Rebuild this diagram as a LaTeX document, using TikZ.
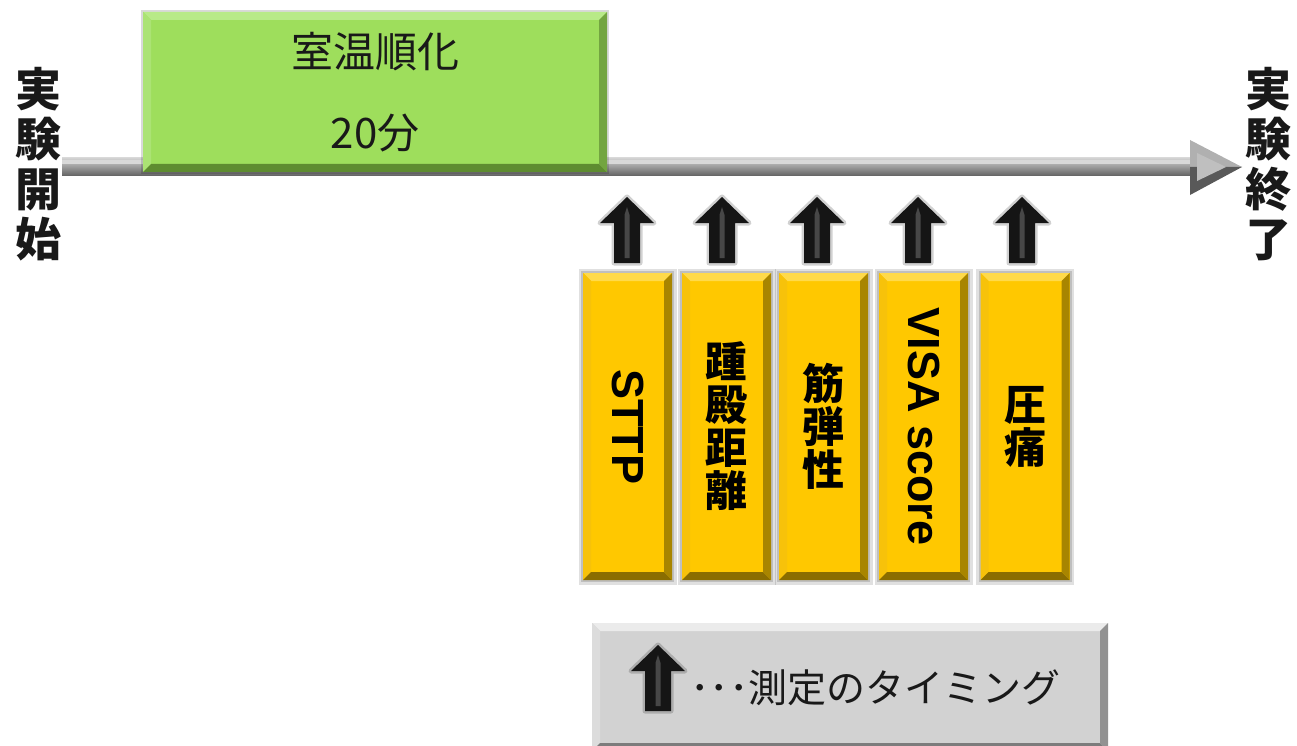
\documentclass[tikz,border=0pt]{standalone}
\usepackage{fontspec}
\usepackage{graphicx}
\usetikzlibrary{calc}
\newfontfamily\jp{Noto Sans CJK JP}
\newfontfamily\lat{Liberation Sans}
\definecolor{gmain}{HTML}{9EDE5C}
\definecolor{gtop}{HTML}{B8EA88}
\definecolor{gleft}{HTML}{ABE374}
\definecolor{gbot}{HTML}{5E8C30}
\definecolor{gright}{HTML}{73A540}
\definecolor{ymain}{HTML}{FFC800}
\definecolor{ytop}{HTML}{FFDA4A}
\definecolor{yleft}{HTML}{F7C20A}
\definecolor{ybot}{HTML}{8A6D00}
\definecolor{yright}{HTML}{A88500}
\definecolor{lmain}{HTML}{D2D2D2}
\definecolor{ltop}{HTML}{EBEBEB}
\definecolor{lleft}{HTML}{DCDCDC}
\definecolor{lbot}{HTML}{7C7C7C}
\definecolor{lright}{HTML}{929292}
\definecolor{arr}{HTML}{151515}
\tikzset{
  x=1pt, y=1pt,
  bevel/.style n args={6}{fill=#1, draw=none, path picture={
    \coordinate (pnw) at (path picture bounding box.north west);
    \coordinate (pne) at (path picture bounding box.north east);
    \coordinate (psw) at (path picture bounding box.south west);
    \coordinate (pse) at (path picture bounding box.south east);
    \fill[#2] (pnw) -- (pne) -- ($(pne)+(-#6,-#6)$) -- ($(pnw)+(#6,-#6)$) -- cycle;
    \fill[#3] (pnw) -- ($(pnw)+(#6,-#6)$) -- ($(psw)+(#6,#6)$) -- (psw) -- cycle;
    \fill[#4] (psw) -- ($(psw)+(#6,#6)$) -- ($(pse)+(-#6,#6)$) -- (pse) -- cycle;
    \fill[#5] (pse) -- ($(pse)+(-#6,#6)$) -- ($(pne)+(-#6,-#6)$) -- (pne) -- cycle;
  }},
  glow/.style={preaction={draw=black, opacity=0.12, line width=9pt},
               preaction={draw=black, opacity=0.15, line width=4pt}},
  ybox/.style={rectangle, minimum width=89pt, minimum height=307pt, inner sep=0pt,
    glow, bevel={ymain}{ytop}{yleft}{ybot}{yright}{8},
    font=\jp\bfseries\fontsize{42}{43}\selectfont, align=center, text=black},
  sidetext/.style={font=\jp\bfseries\fontsize{46}{50}\selectfont, align=center, inner sep=0pt, text=black!90},
  uparr/.pic={
    \fill[arr, preaction={draw=black, opacity=0.18, line width=5pt, line join=round}]
      (-13,0) -- (13,0) -- (13,40) -- (27,40) -- (0,66) -- (-27,40) -- (-13,40) -- cycle;
    \fill[black!72] (-2.5,5) -- (2.5,5) -- (2.5,48) -- (0,56) -- (-2.5,48) -- cycle;
  }
}
\begin{document}
\begin{tikzpicture}
\useasboundingbox (0,0) rectangle (1297,-746);
% side labels
\node[sidetext] (start) at (38,-164) {実\\験\\開\\始};
\node[sidetext] (end) at (1268,-164) {実\\験\\終\\了};
% timeline arrow
\coordinate (tlA) at (62,-167);
\coordinate (tlB) at (1242,-167);
\shade[top color=gray!35, bottom color=black!62] ($(tlA)+(0,9)$) rectangle ($(tlB)+(-50,-9)$);
\fill[gray!30] ($(tlA)+(0,7)$) rectangle ($(tlB)+(-50,3)$);
\fill[gray!62] ($(tlB)+(-52,27)$) -- (tlB) -- ($(tlB)+(-52,0)$) -- cycle;
\fill[black!65] ($(tlB)+(-52,-28)$) -- (tlB) -- ($(tlB)+(-52,0)$) -- cycle;
\fill[gray!50] ($(tlB)+(-45,14)$) -- ($(tlB)+(-16,0)$) -- ($(tlB)+(-45,-14)$) -- cycle;
% green box
\node[rectangle, minimum width=464pt, minimum height=160pt, inner sep=0pt,
      preaction={draw=black, opacity=0.15, line width=4pt},
      bevel={gmain}{gtop}{gleft}{gbot}{gright}{8},
      font=\jp\fontsize{42}{81}\selectfont, align=center, text=black!90]
      (accl) at (375,-92) {室温順化\\20分};
% measurement boxes
\node[ybox] (b1) at (627.5,-426.5) {\rotatebox{-90}{\lat\bfseries\fontsize{45}{45}\selectfont STTP}};
\node[ybox] (b2) at (726.5,-426.5) {踵\\殿\\距\\離};
\node[ybox] (b3) at (823.5,-426.5) {筋\\弾\\性};
\node[ybox] (b4) at (923.5,-426.5) {\rotatebox{-90}{\lat\bfseries\fontsize{45}{45}\selectfont VISA score}};
\node[ybox] (b5) at (1025,-426.5) {圧\\痛};
% timing arrows
\pic at (627,-263) {uparr};
\pic at (722,-263) {uparr};
\pic at (817,-263) {uparr};
\pic at (918,-263) {uparr};
\pic at (1022,-263) {uparr};
% legend
\node[rectangle, minimum width=516pt, minimum height=128pt, inner sep=0pt,
      bevel={lmain}{ltop}{lleft}{lbot}{lright}{8}]
      (legend) at (850,-687) {};
\pic at (658,-711) {uparr};
\node[anchor=west, inner sep=0pt, font=\jp\fontsize{39}{39}\selectfont, text=black!90]
      (legtext) at (690,-688) {･･･測定のタイミング};
\end{tikzpicture}
\end{document}
